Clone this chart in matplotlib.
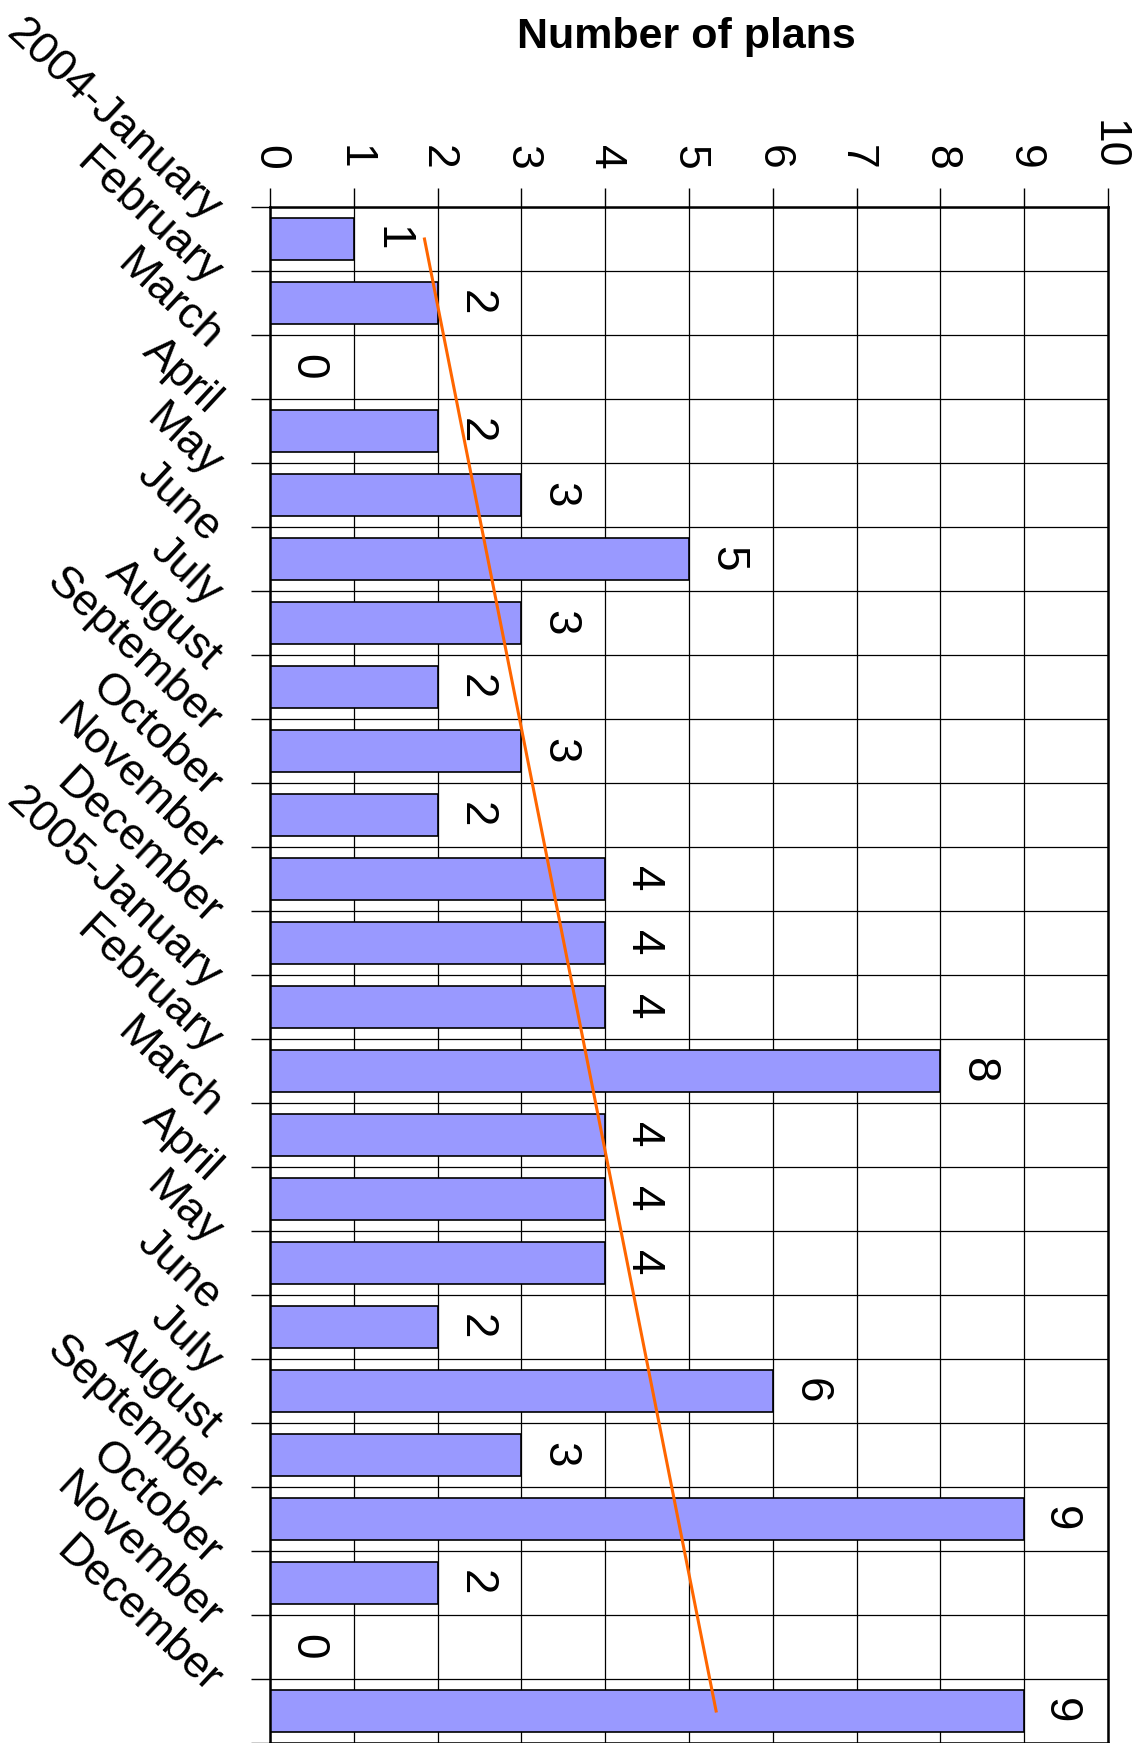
import numpy as np
import matplotlib.pyplot as plt
import matplotlib.transforms as mtransforms

months = ["2004-January", "February", "March", "April", "May", "June",
          "July", "August", "September", "October", "November", "December",
          "2005-January", "February", "March", "April", "May", "June",
          "July", "August", "September", "October", "November", "December"]
plans = [1, 2, 0, 2, 3, 5, 3, 2, 3, 2, 4, 4,
         4, 8, 4, 4, 4, 2, 6, 3, 9, 2, 0, 9]
x_ticks = list(range(11))

plt.rcParams['font.family'] = ['Liberation Sans', 'DejaVu Sans']

fig = plt.figure(figsize=(11.36, 17.43), dpi=100)
ax = fig.add_axes([270 / 1136, 0.0, 838 / 1136, 1536 / 1743])

pos = np.arange(len(plans))
ax.barh(pos, plans, height=0.65, color="#9999FF", edgecolor="black", linewidth=1.2, zorder=2)

# linear trend line (like the Excel trendline)
k, b = np.polyfit(pos + 1, plans, 1)
trend = k * (pos + 1) + b
ax.plot([trend[0], trend[-1]], [pos[0], pos[-1]], color="#FF6600", linewidth=2.2, zorder=3)

# value labels
for p, v in zip(pos, plans):
    ax.text(min(v + 0.45, 9.42), p, str(v), rotation=-90, ha="center", va="center",
            fontsize=33, zorder=4)

ax.set_xlim(0, 10)
ax.set_ylim(len(plans) - 0.5, -0.5)

ax.xaxis.tick_top()
ax.xaxis.set_label_position("top")
ax.set_xticks(x_ticks)
ax.set_xticklabels([str(t) for t in x_ticks], rotation=-90, fontsize=32)
ax.tick_params(axis="x", length=14, width=1, pad=13)
ax.set_xlabel("Number of plans", fontsize=31, fontweight="bold", va="baseline")
ax.xaxis.set_label_coords(0.4964, 1.1035)

# category ticks at row boundaries, labels drawn by hand
ax.set_yticks(np.arange(-0.5, len(plans)))
ax.set_yticklabels([])
ax.tick_params(axis="y", length=14, width=1)
trans = mtransforms.blended_transform_factory(ax.transAxes, ax.transData)
for p, m in zip(pos, months):
    ax.text(-0.066, p - 0.38, m, transform=trans, rotation=-43, rotation_mode="anchor",
            ha="right", va="center", fontsize=32.5, clip_on=False)

ax.grid(True, color="black", linewidth=0.9)
ax.set_axisbelow(True)
for s in ax.spines.values():
    s.set_linewidth(1.8)

plt.savefig("out.png", dpi=100)
